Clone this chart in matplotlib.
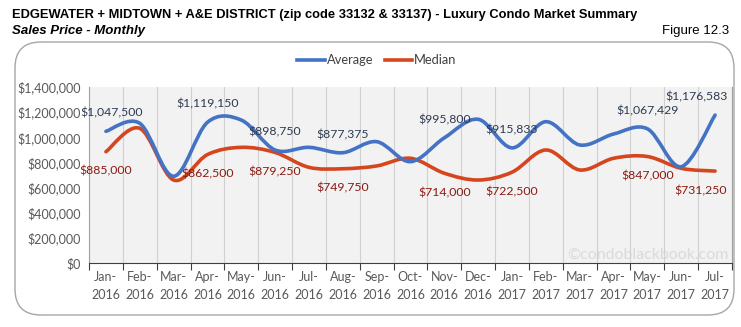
import matplotlib.pyplot as plt
from matplotlib.path import Path
from matplotlib.patches import PathPatch, FancyBboxPatch
from matplotlib.ticker import FuncFormatter
import numpy as np

months = ['Jan-\n2016', 'Feb-\n2016', 'Mar-\n2016', 'Apr-\n2016', 'May-\n2016', 'Jun-\n2016',
          'Jul-\n2016', 'Aug-\n2016', 'Sep-\n2016', 'Oct-\n2016', 'Nov-\n2016', 'Dec-\n2016',
          'Jan-\n2017', 'Feb-\n2017', 'Mar-\n2017', 'Apr-\n2017', 'May-\n2017', 'Jun-\n2017',
          'Jul-\n2017']
average = [1047500, 1111000, 690000, 1119150, 1137000, 898750, 920000, 877375, 965000,
           806000, 995800, 1143000, 915833, 1124000, 939000, 1026000, 1067429, 766000,
           1176583]
median = [885000, 1071000, 660000, 862500, 920000, 879250, 761000, 749750, 772000,
          833000, 714000, 660000, 722500, 899000, 740000, 833000, 847000, 753000,
          731250]
labeled = [0, 3, 5, 7, 10, 12, 16, 18]

BLUE = '#4472c4'
RED = '#d5461f'
W, H = 741, 327

plt.rcParams['font.family'] = ['Lato', 'DejaVu Sans']
fig = plt.figure(figsize=(W / 100, H / 100), dpi=100)


def smooth_path(xs, ys):
    # Excel-style smoothed line: cubic bezier between points (Catmull-Rom tangents)
    pts = np.column_stack([xs, ys]).astype(float)
    verts = [pts[0]]
    codes = [Path.MOVETO]
    n = len(pts)
    for i in range(n - 1):
        p0 = pts[i - 1] if i > 0 else pts[i]
        p1 = pts[i]
        p2 = pts[i + 1]
        p3 = pts[i + 2] if i + 2 < n else pts[i + 1]
        verts += [p1 + (p2 - p0) / 6, p2 - (p3 - p1) / 6, p2]
        codes += [Path.CURVE4] * 3
    return Path(verts, codes)


# outer rounded frame
frame = FancyBboxPatch((15 / W, (H - 315) / H), 719 / W, 273 / H,
                       boxstyle='round,pad=0,rounding_size=0.035',
                       transform=fig.transFigure, fc='white', ec='#a6a6a6', lw=1.0,
                       mutation_aspect=W / H, zorder=-5)
fig.patches.append(frame)

title_font = ['Liberation Sans', 'DejaVu Sans']
fig.text(12 / W, 1 - 15 / H,
         'EDGEWATER + MIDTOWN + A&E DISTRICT (zip code 33132 & 33137) - Luxury Condo Market Summary',
         family=title_font, weight='bold', fontsize=9.3, va='center', ha='left', color='black')
fig.text(12 / W, 1 - 31 / H, 'Sales Price - Monthly', family=title_font, weight='bold',
         style='italic', fontsize=9.5, va='center', ha='left')
fig.text(729 / W, 1 - 31 / H, 'Figure 12.3', family=title_font, fontsize=9.5, va='center',
         ha='right')

ax = fig.add_axes([89 / W, (H - 263) / H, (732 - 89) / W, (263 - 87) / H])
ax.set_facecolor('#f2f2f2')
x = np.arange(len(months))
ax.add_patch(PathPatch(smooth_path(x, average), fc='none', ec=BLUE, lw=2.6,
                       capstyle='round', joinstyle='round', zorder=3))
ax.add_patch(PathPatch(smooth_path(x, median), fc='none', ec=RED, lw=2.6,
                       capstyle='round', joinstyle='round', zorder=2))

ax.set_xlim(-0.5, len(months) - 0.5)
ax.set_ylim(0, 1400000)
ax.set_yticks(np.arange(0, 1400001, 200000))
ax.yaxis.set_major_formatter(FuncFormatter(lambda v, p: '${:,.0f}'.format(v)))
ax.set_xticks(x)
ax.set_xticklabels(months, linespacing=1.55)
ax.set_xticks(np.arange(-0.5, len(months), 1), minor=True)
ax.tick_params(axis='x', which='major', length=0, pad=6, labelsize=9, colors='#595959')
ax.tick_params(axis='x', which='minor', length=5, direction='out', color='#404040', width=0.8)
ax.tick_params(axis='y', length=0, labelsize=9, colors='#595959', pad=6)
ax.grid(axis='x', which='minor', color='#d0d0d0', lw=0.8)
ax.spines['top'].set_visible(False)
ax.spines['bottom'].set_color('#404040')
ax.spines['left'].set_color('#a0a0a0')
ax.spines['right'].set_color('#a0a0a0')

for i in labeled:
    last = i == len(months) - 1
    shift = 4 if i == 0 else 0
    ax.annotate('${:,.0f}'.format(average[i]), (x[i] - (0.55 if last else 0), average[i]),
                xytext=(shift, 13), textcoords='offset points', ha='center', va='center',
                fontsize=8.8, color='#2e3a52', zorder=4)
    ax.annotate('${:,.0f}'.format(median[i]), (x[i] - (0.42 if last else 0), median[i]),
                xytext=(0, -14), textcoords='offset points', ha='center', va='center',
                fontsize=8.8, color='#8b1a10', zorder=4)

ax.text(0.995, 0.045, '\u00a9condoblackbook.com', transform=ax.transAxes, ha='right',
        va='center', fontsize=11.5, color='#dadada', zorder=1)

# legend
for x0, x1, col, lab in [(297, 325, BLUE, 'Average'), (385, 412, RED, 'Median')]:
    fig.lines.append(plt.Line2D([x0 / W, x1 / W], [1 - 60 / H] * 2, color=col, lw=2.6,
                                transform=fig.transFigure))
    fig.text((x1 + 2) / W, 1 - 60 / H, lab, fontsize=9.3, color='#404040', va='center',
             ha='left')

fig.savefig('out.png', dpi=100)
